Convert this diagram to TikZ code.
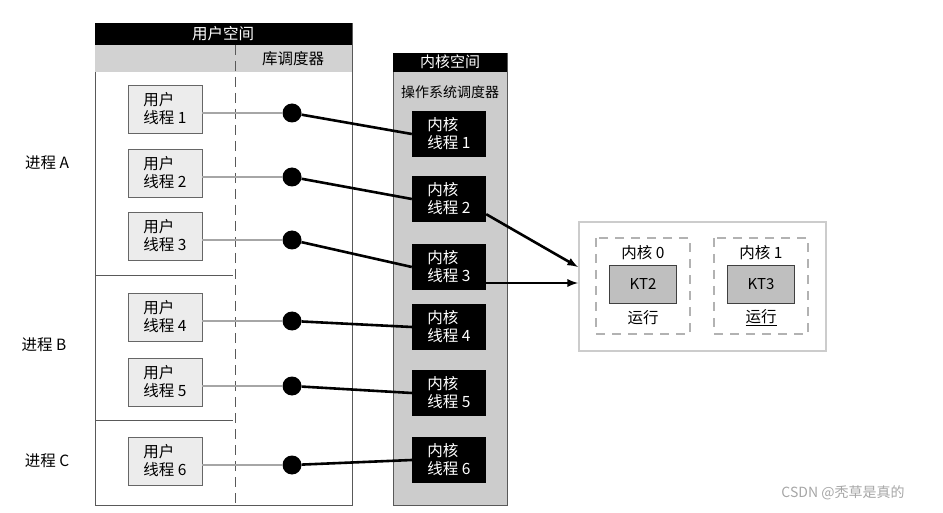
\documentclass[tikz,border=0pt]{standalone}
\usepackage{fontspec}
\setmainfont{Noto Sans CJK SC}
\begin{document}
\begin{tikzpicture}[x=1pt,y=-1pt,
  ubox/.style={draw=gray!80!black,fill=gray!15,minimum width=74pt,minimum height=48pt,align=left,font=\fontsize{15.5}{18}\selectfont,inner sep=1pt},
  kbox/.style={fill=black,text=white,minimum width=74pt,minimum height=46pt,align=left,font=\fontsize{15.5}{18}\selectfont,inner sep=1pt},
  dot/.style={circle,fill=black,minimum size=19pt,inner sep=0pt},
  glink/.style={gray!70,line width=2.5pt},
  klink/.style={black,line width=2.6pt},
  lbl/.style={font=\fontsize{15.5}{18}\selectfont}]
\useasboundingbox (0,0) rectangle (943,513);
% user space
\draw[gray!70!black] (95,23) rectangle (352,505);
\fill[black] (95,23) rectangle (352,45);
\node[text=white,font=\fontsize{15.5}{18}\selectfont] (us) at (223,34) {用户空间};
\fill[gray!35] (95,45) rectangle (352,72);
\node[lbl] (ls) at (293,59) {库调度器};
\draw[gray!70!black,line width=1pt,dashed,dash pattern=on 10pt off 6pt] (235,45) -- (235,505);
\draw[gray!70!black] (95,275) -- (233,275);
\draw[gray!70!black] (95,420) -- (233,420);
% kernel space
\draw[gray!70!black,fill=gray!40] (393,53) rectangle (507,505);
\fill[black] (393,53) rectangle (507,72);
\node[text=white,font=\fontsize{15}{17}\selectfont] (ks) at (450,62) {内核空间};
\node[font=\fontsize{14}{16}\selectfont,inner sep=0pt] (os) at (450,92) {操作系统调度器};
% processes
\node[lbl] (pa) at (47,163) {进程 A};
\node[lbl] (pb) at (44,345) {进程 B};
\node[lbl] (pc) at (47,461) {进程 C};
% threads
\foreach \i/\uy/\ky in {1/109/134,2/173/199,3/236/267,4/317/327,5/382/393,6/461/460}{
  \node[ubox] (u\i) at (165,\uy) {用户\\线程 \i};
  \node[dot] (d\i) at (292,\uy+4) {};
  \node[kbox] (k\i) at (449,\ky) {内核\\线程 \i};
  \draw[glink] (u\i.east |- d\i) -- (d\i);
  \draw[klink] (d\i) -- (k\i.west);
}
% cpu box
\draw[gray!40,line width=2pt] (579,222) rectangle (826,351);
\foreach \n/\x/\kt in {0/643/KT2,1/761/KT3}{
  \draw[gray!60,line width=1.8pt,dashed,dash pattern=on 9pt off 7pt] (\x-47,238) rectangle (\x+47,334);
  \node[lbl] (c\n) at (\x,253) {内核 \n};
  \node[draw=gray!50!black,fill=gray!50,minimum width=67pt,minimum height=38pt,font=\fontsize{15}{17}\selectfont] (t\n) at (\x,284) {\kt};
}
\node[lbl] (r0) at (643,318) {运行};
\node[lbl] (r1) at (761,318) {\underline{运行}};
\coordinate (a1) at (578,267);
\coordinate (a2) at (578,283);
\draw[klink,-latex] (k2.south east) ++(0,-8) -- (a1);
\draw[klink,-latex] (k3.east |- a2) -- (a2);
\node[text=gray!70,font=\fontsize{14}{16}\selectfont] (wm) at (843,493) {CSDN @秃草是真的};
\end{tikzpicture}
\end{document}
